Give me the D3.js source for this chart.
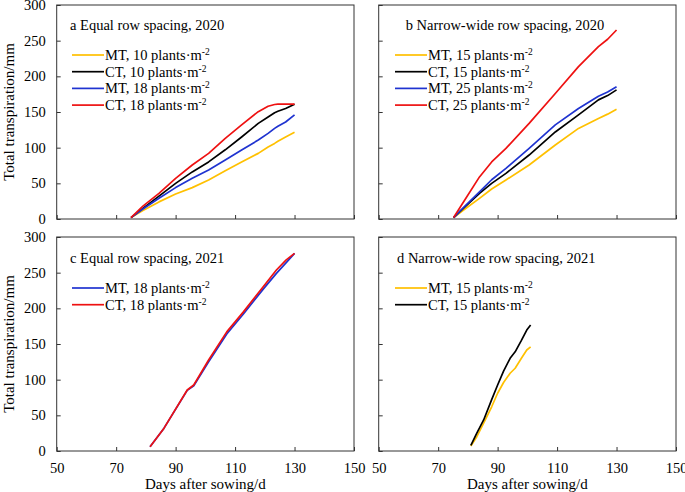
<!DOCTYPE html>
<html>
<head>
<meta charset="utf-8">
<script src="https://cdn.jsdelivr.net/npm/d3@7"></script>
<style>
  body { margin: 0; background: #fff; }
  text { font-family: "Liberation Serif", "Times New Roman", serif; fill: #000; }
</style>
</head>
<body>
<div class="chart"></div>
<script>
// x ticks / y ticks
var xTicks = [50, 70, 90, 110, 130, 150];
var yTicks = [0, 50, 100, 150, 200, 250, 300];

// panel a: Equal row spacing, 2020
var aDays   = [75, 79, 84.4, 90, 95.6, 101.1, 106.7, 112.2, 117.8, 121.1, 123.3, 124.4, 127, 130];
var aMT10   = [2, 12, 24, 35, 44, 54.7, 67.8, 80, 92, 101, 106, 109, 115, 121.5];
var aCT10   = [2, 15, 32, 50, 66, 80, 97, 115, 134, 143, 149, 151, 155, 161];
var aMT18   = [2, 14, 29, 44, 57, 68.7, 82.7, 96.7, 110.7, 120, 127, 130, 136, 146];
var aCT18   = [2, 18, 36, 57, 75.7, 92, 113, 132, 150.5, 158, 160.5, 161, 161, 161];

// panel b: Narrow-wide row spacing, 2020
var bDays   = [75.2, 79, 83.9, 88, 92.8, 100.6, 109.4, 117.2, 123.9, 127, 130];
var bMT15   = [2, 14, 29, 42, 54.7, 75.7, 103.7, 127, 141, 147, 153.7];
var bCT15   = [2, 17, 36, 50, 64, 89.7, 122, 146, 167, 173, 181];
var bMT25   = [2, 18, 38, 55, 71, 99, 132, 155, 172, 178, 185.5];
var bCT25   = [2, 27, 59, 80, 99, 134, 176, 213.6, 241.6, 252, 265];

// panel c: Equal row spacing, 2021
var cDays   = [81.4, 86.1, 93.9, 96.1, 101.1, 107.2, 112.8, 119.4, 123.9, 127.2, 130];
var cMT18   = [6, 32, 85, 91.5, 125, 164, 192, 226.6, 249, 264, 277];
var cCT18   = [6, 32, 85.5, 92.5, 127.6, 167, 195, 230, 253.7, 268, 277];

// panel d: Narrow-wide row spacing, 2021
var dDays   = [81, 83, 85.3, 88, 90, 92, 94.2, 95.9, 98, 99.8, 101.1];
var dMT15   = [7, 20, 39, 62, 81, 96, 109, 116, 130, 141.6, 146];
var dCT15   = [8, 25, 43.5, 72, 92.5, 112, 130, 139, 155, 169.6, 176.6];

var colors = { yellow: "#FFC000", black: "#000000", blue: "#1F33D0", red: "#EE1111" };

var panels = [
  { x0: 56.7, x1: 354, y0: 5, y1: 219, title: "a Equal row spacing, 2020", tx: 70, ty: 30,
    yLabels: true, xLabels: false, legendY: 55, legendX: 72, days: aDays,
    series: [["MT, 10 plants·m", aMT10, colors.yellow], ["CT, 10 plants·m", aCT10, colors.black],
             ["MT, 18 plants·m", aMT18, colors.blue], ["CT, 18 plants·m", aCT18, colors.red]] },
  { x0: 378.7, x1: 676, y0: 5, y1: 219, title: "b Narrow-wide row spacing, 2020", tx: 405.7, ty: 30,
    yLabels: false, xLabels: false, legendY: 55, legendX: 395, days: bDays,
    series: [["MT, 15 plants·m", bMT15, colors.yellow], ["CT, 15 plants·m", bCT15, colors.black],
             ["MT, 25 plants·m", bMT25, colors.blue], ["CT, 25 plants·m", bCT25, colors.red]] },
  { x0: 56.7, x1: 354, y0: 237, y1: 451, title: "c Equal row spacing, 2021", tx: 70, ty: 263,
    yLabels: true, xLabels: true, legendY: 288, legendX: 72, days: cDays,
    series: [["MT, 18 plants·m", cMT18, colors.blue], ["CT, 18 plants·m", cCT18, colors.red]] },
  { x0: 378.7, x1: 676, y0: 237, y1: 451, title: "d Narrow-wide row spacing, 2021", tx: 397, ty: 263,
    yLabels: false, xLabels: true, legendY: 288, legendX: 395, days: dDays,
    series: [["MT, 15 plants·m", dMT15, colors.yellow], ["CT, 15 plants·m", dCT15, colors.black]] }
];

var svg = d3.select(".chart").append("svg")
    .attr("width", 685)
    .attr("height", 492);

panels.forEach(function(p) {
  var x = d3.scaleLinear().domain([50, 150]).range([p.x0, p.x1]);
  var y = d3.scaleLinear().domain([0, 300]).range([p.y1, p.y0]);
  var g = svg.append("g");

  var xAxis = d3.axisBottom(x).tickValues(xTicks).tickSizeInner(-4).tickSizeOuter(0).tickPadding(12);
  if (!p.xLabels) xAxis.tickFormat("");
  var yAxis = d3.axisLeft(y).tickValues(yTicks).tickSizeInner(-4).tickSizeOuter(0).tickPadding(11);
  if (!p.yLabels) yAxis.tickFormat("");

  g.append("g")
      .attr("class", "axis x-axis")
      .attr("transform", `translate(0, ${p.y1})`)
      .call(xAxis);
  g.append("g")
      .attr("class", "axis y-axis")
      .attr("transform", `translate(${p.x0}, 0)`)
      .call(yAxis);
  g.selectAll(".axis text").style("font-family", "Liberation Serif").style("font-size", "14.5px").attr("fill", "#000");
  g.selectAll(".axis line").attr("stroke", "#333");
  g.selectAll(".axis path").remove();

  // frame
  g.append("rect")
      .attr("x", p.x0).attr("y", p.y0)
      .attr("width", p.x1 - p.x0).attr("height", p.y1 - p.y0)
      .attr("fill", "none").attr("stroke", "#333").attr("stroke-width", 1);

  var line = d3.line()
      .x((d, i) => x(p.days[i]))
      .y(d => y(d))
      .curve(d3.curveLinear);

  p.series.forEach(function(s, i) {
    g.append("path")
        .datum(s[1])
        .attr("d", line)
        .attr("fill", "none")
        .attr("stroke", s[2])
        .attr("stroke-width", 1.7)
        .attr("stroke-linejoin", "round");

    var ly = p.legendY + i * 16.7;
    g.append("line")
        .attr("x1", p.legendX).attr("x2", p.legendX + 32)
        .attr("y1", ly).attr("y2", ly)
        .attr("stroke", s[2]).attr("stroke-width", 1.7);
    var t = g.append("text")
        .attr("x", p.legendX + 33).attr("y", ly + 5)
        .style("font-size", "14.5px");
    t.append("tspan").text(s[0]);
    t.append("tspan").attr("dy", -5).style("font-size", "9.5px").text("-2");
  });

  g.append("text")
      .attr("x", p.tx).attr("y", p.ty)
      .style("font-size", "14.5px")
      .text(p.title);

  if (p.yLabels) {
    g.append("text")
        .attr("transform", `translate(14, ${(p.y0 + p.y1) / 2}) rotate(-90)`)
        .attr("text-anchor", "middle")
        .style("font-size", "15px")
        .text("Total transpiration/mm");
  }
  if (p.xLabels) {
    g.append("text")
        .attr("x", (p.x0 + p.x1) / 2).attr("y", 489)
        .attr("text-anchor", "middle")
        .style("font-size", "15px")
        .text("Days after sowing/d");
  }
});
</script>
</body>
</html>
